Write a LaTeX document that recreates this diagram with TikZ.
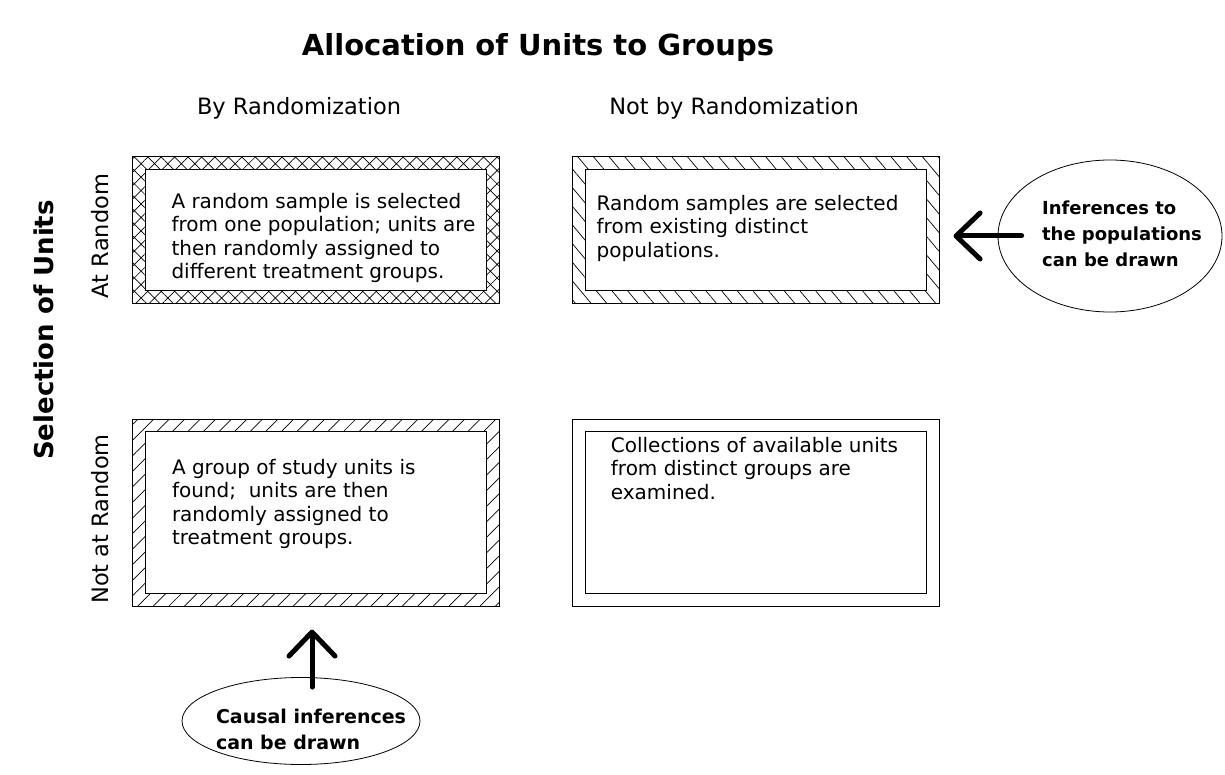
\documentclass[tikz,border=0pt]{standalone}
\usepackage{fontspec}
\setmainfont{DejaVu Sans}
\usetikzlibrary{positioning,shapes.geometric,patterns.meta,arrows.meta}
\tikzset{ %
  ,>=latex
  ,outerbox/.style={draw, line width=1.1pt, minimum width=367pt, inner sep=0}
  ,innerbox/.style={draw, fill=white, line width=1.4pt, minimum width=341pt, inner sep=0}
  ,bodytext/.style={inner sep=0, anchor=north west, align=left, font=\fontsize{20}{23.5}\selectfont}
  ,head/.style={inner sep=0, font=\fontsize{22.5}{27}\selectfont}
  ,bighead/.style={inner sep=0, font=\fontsize{29}{34}\selectfont\bfseries}
  ,callout/.style={draw, ellipse, line width=0.8pt, inner sep=0}
  ,calltext/.style={inner sep=0, align=left, font=\bfseries}
  ,bigarrow/.style={line width=5pt, line cap=round, line join=round,
     -{Straight Barb[length=24pt, width=46pt, line cap=round, line join=round]}}
}
\begin{document}
\begin{tikzpicture}[x=1pt, y=-1pt]
      \path[use as bounding box, fill=white] (0,0) rectangle (1225,775);
      % headings
      \node[bighead] (title) at (538,48) {Allocation of Units to Groups};
      \node[head] (byrand) at (299,108) {By Randomization};
      \node[head] (notbyrand) at (734,108) {Not by Randomization};
      \node[bighead, font=\fontsize{26}{30}\selectfont\bfseries, rotate=90] (select) at (44,330) {Selection of Units};
      \node[head, rotate=90] (atrand) at (100,236) {At Random};
      \node[head, rotate=90] (notatrand) at (100,519) {Not at Random};
      % the four boxes
      \node[outerbox, minimum height=147pt, pattern={Hatch[angle=45, distance=9.5pt, line width=0.7pt]}] (tlout) at (316,230) {};
      \node[outerbox, minimum height=147pt, pattern={Lines[angle=-50, distance=12pt, line width=0.7pt]}, right=72pt of tlout] (trout) {};
      \node[outerbox, minimum height=187pt, pattern={Lines[angle=45, distance=11pt, line width=0.7pt]}, below=115pt of tlout] (blout) {};
      \node[outerbox, minimum height=187pt, right=72pt of blout] (brout) {};
      \node[innerbox, minimum height=121pt] (tlin) at (tlout) {};
      \node[innerbox, minimum height=121pt] (trin) at (trout) {};
      \node[innerbox, minimum height=162pt] (blin) at (blout) {};
      \node[innerbox, minimum height=162pt] (brin) at (brout) {};
      \node[bodytext] (tltext) at ([shift={(26.5pt,-24pt)}]tlin.north west)
        {A random sample is selected\\from one population; units are\\then randomly assigned to\\different treatment groups.};
      \node[bodytext] (trtext) at ([shift={(12pt,-26pt)}]trin.north west)
        {Random samples are selected\\from existing distinct\\populations.};
      \node[bodytext] (bltext) at ([shift={(27pt,-28pt)}]blin.north west)
        {A group of study units is\\found;~ units are then\\randomly assigned to\\treatment groups.};
      \node[bodytext] (brtext) at ([shift={(26pt,-6pt)}]brin.north west)
        {Collections of available units\\from distinct groups are\\examined.};
      % call-outs
      \node[callout, minimum width=224pt, minimum height=152pt] (popell) at (1110,236) {};
      \node[calltext, font=\fontsize{18}{26}\selectfont\bfseries] (poptext) at (1122,234) {Inferences to\\the populations\\can be drawn};
      \node[callout, minimum width=238pt, minimum height=87pt] (causell) at (301,721) {};
      \node[calltext, font=\fontsize{19}{26}\selectfont\bfseries] (causetext) at (311,729) {Causal inferences\\can be drawn};
      \coordinate (causetail) at ([shift={(11pt,-10pt)}]causell.north);
      \coordinate (causetip) at (causetail |- blout.south);
      \draw[bigarrow] ([xshift=24pt]popell.west) -- ([xshift=14pt]popell.west -| trout.east);
      \draw[bigarrow] (causetail) -- ([yshift=-23pt]causetip);
    \end{tikzpicture}
\end{document}
